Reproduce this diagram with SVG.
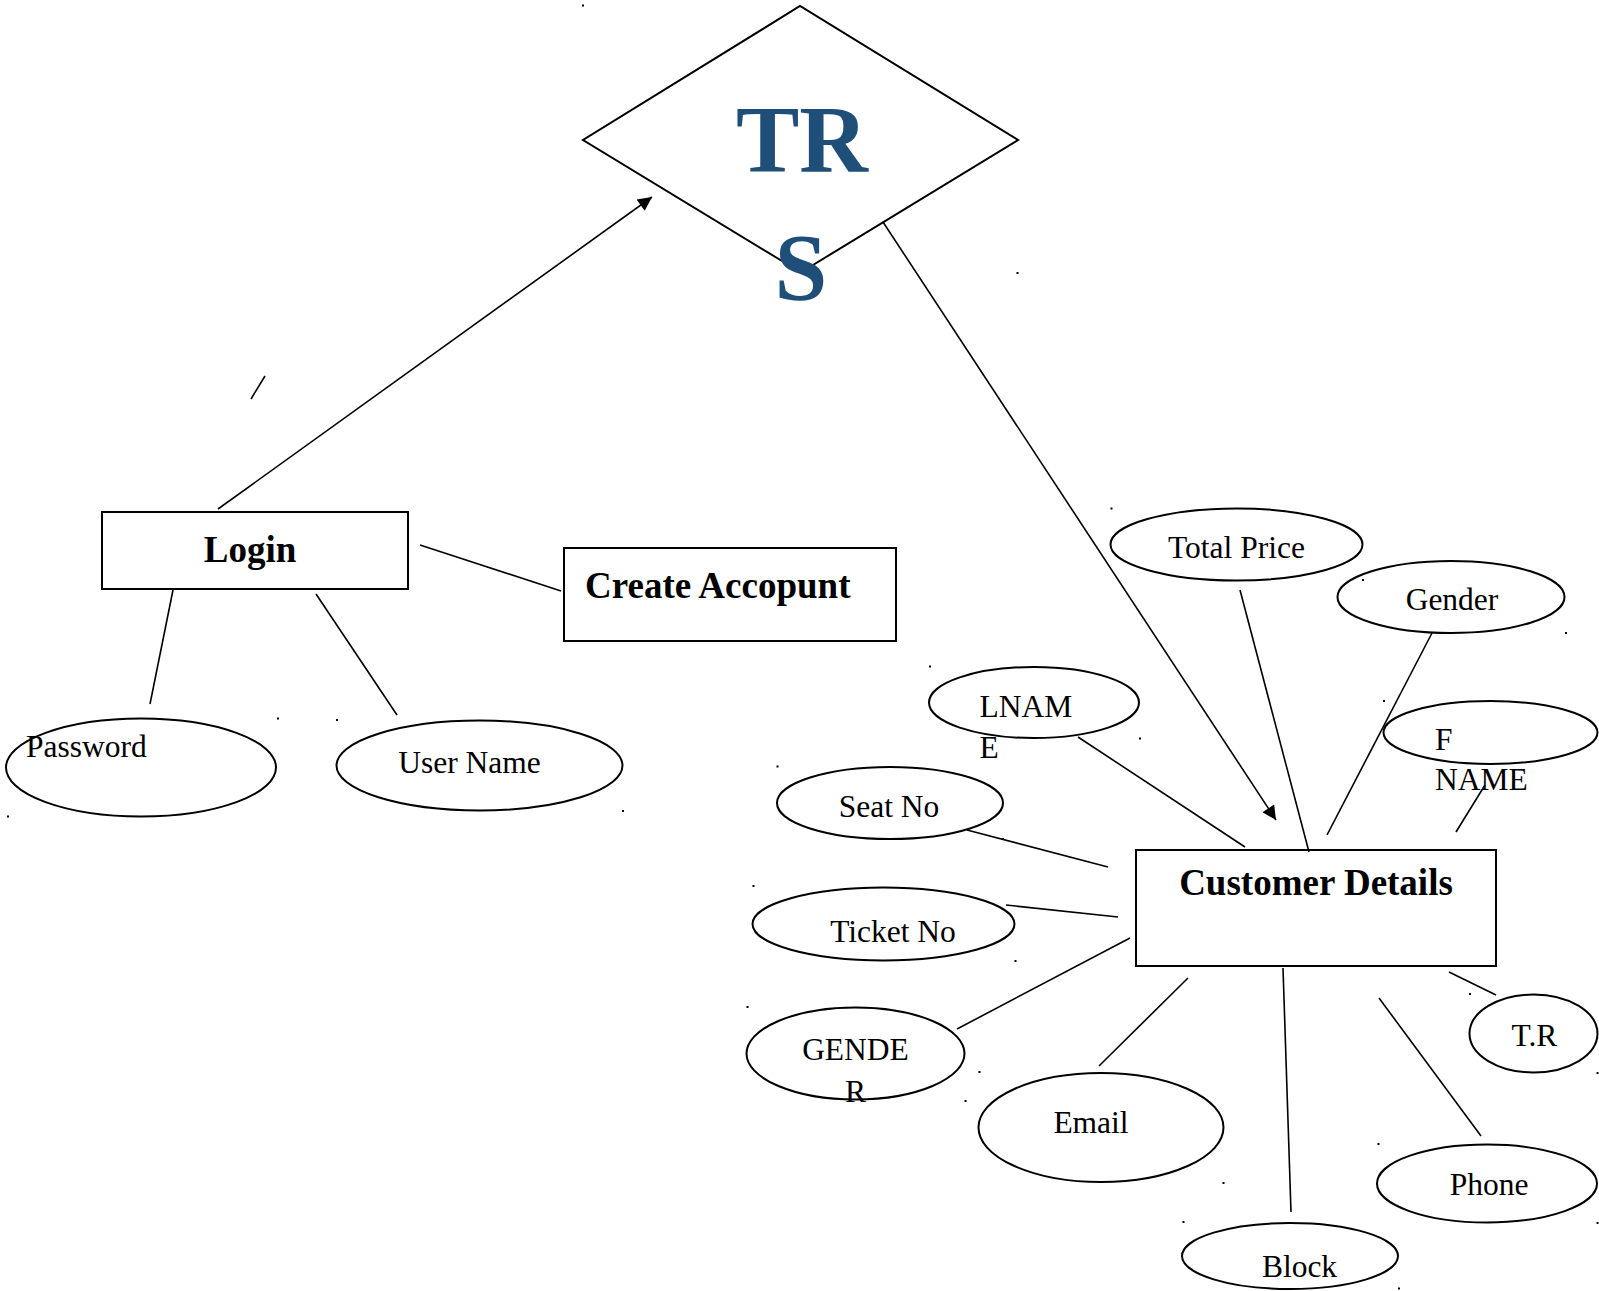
<svg xmlns="http://www.w3.org/2000/svg" width="1599" height="1291" viewBox="0 0 1599 1291">
<style>
.s{fill:none;stroke:#000;stroke-width:2}
.c{fill:none;stroke:#000;stroke-width:1.6}
.t{font-family:"Liberation Serif","Times New Roman",serif;font-size:31.5px;fill:#000}
.b{font-family:"Liberation Serif","Times New Roman",serif;font-size:37px;font-weight:bold;fill:#000}
.d{fill:#000}
</style>
<defs>
<marker id="ah" viewBox="0 0 10 10" refX="10" refY="5" markerWidth="8" markerHeight="8" markerUnits="userSpaceOnUse" orient="auto">
<path d="M0,0 L10,5 L0,10 z" fill="#000"/>
</marker>
<marker id="ah2" viewBox="0 0 10 10" refX="10" refY="5" markerWidth="16" markerHeight="14" markerUnits="userSpaceOnUse" orient="auto">
<path d="M0,0 L10,5 L0,10 z" fill="#000"/>
</marker>
</defs>

<g id="connectors">
<line class="c" x1="218" y1="509" x2="652" y2="197" marker-end="url(#ah2)"/>
<line class="c" x1="883" y1="222" x2="1276" y2="820" marker-end="url(#ah2)"/>
<line class="c" x1="251" y1="399" x2="265" y2="376"/>
<line class="c" x1="420" y1="545" x2="561" y2="591"/>
<line class="c" x1="173" y1="590" x2="150" y2="704"/>
<line class="c" x1="316" y1="594" x2="397" y2="715"/>
<line class="c" x1="1240" y1="590" x2="1309" y2="852"/>
<line class="c" x1="1432" y1="633" x2="1327" y2="835"/>
<line class="c" x1="1485" y1="785" x2="1456" y2="832"/>
<line class="c" x1="1078" y1="737" x2="1245" y2="847"/>
<line class="c" x1="967" y1="830" x2="1108" y2="867"/>
<line class="c" x1="1006" y1="905" x2="1118" y2="917"/>
<line class="c" x1="957" y1="1029" x2="1130" y2="938"/>
<line class="c" x1="1099" y1="1066" x2="1188" y2="978"/>
<line class="c" x1="1283" y1="968" x2="1291" y2="1212"/>
<line class="c" x1="1379" y1="998" x2="1481" y2="1136"/>
<line class="c" x1="1449" y1="972" x2="1496" y2="995"/>
</g>

<g id="trs">
<path class="s" d="M782,261 L583,140 L800,6 L1018,140 L813,265"/>
<text x="802" y="172" text-anchor="middle" style="font-family:'Liberation Serif','Times New Roman',serif;font-size:95px;font-weight:bold;fill:#1f4e79">TR</text>
<text x="801" y="300" text-anchor="middle" style="font-family:'Liberation Serif','Times New Roman',serif;font-size:95px;font-weight:bold;fill:#1f4e79">S</text>
</g>

<g id="login">
<rect class="s" x="102" y="512" width="306" height="77"/>
<text class="b" x="250" y="562" text-anchor="middle">Login</text>
</g>

<g id="create-account">
<rect class="s" x="564" y="548" width="332" height="93"/>
<text class="b" x="585" y="598">Create Accopunt</text>
</g>

<g id="password">
<ellipse class="s" cx="141" cy="767.5" rx="135" ry="49"/>
<text class="t" x="26" y="757">Password</text>
</g>

<g id="user-name">
<ellipse class="s" cx="479.5" cy="765.5" rx="143" ry="45"/>
<text class="t" x="469.5" y="773" text-anchor="middle">User Name</text>
</g>

<g id="customer-details">
<rect class="s" x="1136" y="850" width="360" height="116"/>
<text class="b" x="1316" y="895" text-anchor="middle">Customer Details</text>
</g>

<g id="total-price">
<ellipse class="s" cx="1236.5" cy="544.5" rx="126" ry="36"/>
<text class="t" x="1236.5" y="558" text-anchor="middle">Total Price</text>
</g>

<g id="gender">
<ellipse class="s" cx="1451" cy="597" rx="113.5" ry="36"/>
<text class="t" x="1452" y="610" text-anchor="middle">Gender</text>
</g>

<g id="fname">
<ellipse class="s" cx="1490.5" cy="732.5" rx="107" ry="31.5"/>
<text class="t" x="1435" y="750">F</text>
<text class="t" x="1435" y="790">NAME</text>
</g>

<g id="lname">
<ellipse class="s" cx="1034" cy="702.5" rx="105" ry="35.5"/>
<text class="t" x="979.5" y="716.5">LNAM</text>
<text class="t" x="979.5" y="758">E</text>
</g>

<g id="seat-no">
<ellipse class="s" cx="890" cy="803" rx="113" ry="36"/>
<text class="t" x="889" y="816.5" text-anchor="middle">Seat No</text>
</g>

<g id="ticket-no">
<ellipse class="s" cx="883.5" cy="924" rx="131" ry="36.5"/>
<text class="t" x="893" y="941.5" text-anchor="middle">Ticket No</text>
</g>

<g id="gender2">
<ellipse class="s" cx="855.5" cy="1053.5" rx="109" ry="46"/>
<text class="t" x="855.5" y="1060" text-anchor="middle">GENDE</text>
<text class="t" x="855.5" y="1102" text-anchor="middle">R</text>
</g>

<g id="email">
<ellipse class="s" cx="1101" cy="1127.5" rx="122.5" ry="54.5"/>
<text class="t" x="1091" y="1132.5" text-anchor="middle">Email</text>
</g>

<g id="block">
<ellipse class="s" cx="1290" cy="1256" rx="108" ry="33"/>
<text class="t" x="1299.5" y="1276.5" text-anchor="middle">Block</text>
</g>

<g id="phone">
<ellipse class="s" cx="1487" cy="1183.5" rx="110" ry="39"/>
<text class="t" x="1489" y="1195" text-anchor="middle">Phone</text>
</g>

<g id="tr">
<ellipse class="s" cx="1533.5" cy="1033.5" rx="64" ry="39"/>
<text class="t" x="1534.5" y="1045.5" text-anchor="middle">T.R</text>
</g>

<g id="dots">
<rect class="d" x="582" y="4.5" width="2" height="2"/>
<rect class="d" x="1016.5" y="272" width="2" height="2"/>
<rect class="d" x="1110.5" y="507.5" width="2" height="2"/>
<rect class="d" x="1362" y="579" width="2" height="2"/>
<rect class="d" x="1565" y="632" width="2" height="2"/>
<rect class="d" x="929" y="665.5" width="2" height="2"/>
<rect class="d" x="1139" y="737.5" width="2" height="2"/>
<rect class="d" x="1383" y="700" width="2" height="2"/>
<rect class="d" x="776.5" y="765.5" width="2" height="2"/>
<rect class="d" x="1002" y="838" width="2" height="2"/>
<rect class="d" x="752.5" y="885" width="2" height="2"/>
<rect class="d" x="1014.5" y="960" width="2" height="2"/>
<rect class="d" x="746.5" y="1006" width="2" height="2"/>
<rect class="d" x="978.5" y="1071" width="2" height="2"/>
<rect class="d" x="964.5" y="1100" width="2" height="2"/>
<rect class="d" x="1222.5" y="1182" width="2" height="2"/>
<rect class="d" x="1182.5" y="1221" width="2" height="2"/>
<rect class="d" x="1398" y="1287.5" width="2" height="2"/>
<rect class="d" x="1377.5" y="1143" width="2" height="2"/>
<rect class="d" x="1469" y="993" width="2" height="2"/>
<rect class="d" x="1596.5" y="1072" width="2" height="2"/>
<rect class="d" x="1596.5" y="1222" width="2" height="2"/>
<rect class="d" x="277" y="717.5" width="2" height="2"/>
<rect class="d" x="336" y="719" width="2" height="2"/>
<rect class="d" x="7" y="815.5" width="2" height="2"/>
<rect class="d" x="622" y="810" width="2" height="2"/>
</g>
</svg>
